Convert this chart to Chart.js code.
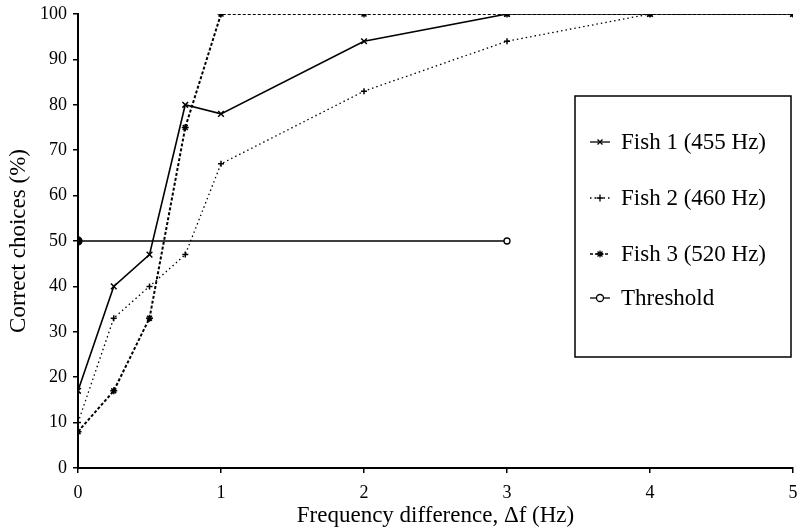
<!DOCTYPE html>
<html>
<head>
<meta charset="utf-8">
<script src="https://cdn.jsdelivr.net/npm/chart.js@4/dist/chart.umd.min.js"></script>
<style>
  html, body { margin: 0; padding: 0; background: #fff; }
  #wrap { width: 800px; height: 532px; }
</style>
</head>
<body>
<div id="wrap"><canvas id="fishChart"></canvas></div>
<script>
// data
const freqDiff = [0, 0.25, 0.5, 0.75, 1, 2, 3, 4, 5];
const fish1 = [17, 40, 47, 80, 78, 94, 100, 100, 100];
const fish2 = [10, 33, 40, 47, 67, 83, 94, 100, 100];
const fish3 = [8, 17, 33, 75, 100, 100, 100, 100, 100];
const thresholdX = [0, 3];
const thresholdY = [50, 50];
const seriesLabels = ['Fish 1 (455 Hz)', 'Fish 2 (460 Hz)', 'Fish 3 (520 Hz)', 'Threshold'];
const xTicks = [0, 1, 2, 3, 4, 5];
const yTicks = [0, 10, 20, 30, 40, 50, 60, 70, 80, 90, 100];

const serif = "'Liberation Serif', 'DejaVu Serif', serif";

function toPoints(xs, ys){
  return xs.map((x, i) => ({ x: x, y: ys[i] }));
}

function noEdgePadding(s){
  s.paddingTop = 0;
  s.paddingBottom = 0;
  s.paddingLeft = 0;
  s.paddingRight = 0;
}

// legend box drawn inside the plot
const boxLegend = {
  id: 'boxLegend',
  afterDraw(chart){
    const c = chart.ctx;
    c.save();
    c.strokeStyle = '#000';
    c.lineWidth = 1.5;
    c.strokeRect(575, 96, 216, 261);
    const rows = [142, 198, 254, 298];
    chart.data.datasets.forEach((ds, i) => {
      const y = rows[i];
      c.beginPath();
      c.strokeStyle = '#000';
      c.lineWidth = 1.3;
      c.setLineDash(ds.borderDash || []);
      c.moveTo(590, y);
      c.lineTo(610, y);
      c.stroke();
      c.setLineDash([]);
      c.fillStyle = '#fff';
      Chart.helpers.drawPoint(c, {
        pointStyle: ds.pointStyle,
        radius: 3.5,
        borderWidth: 1.4
      }, 600, y);
      c.fillStyle = '#000';
      c.font = '23px ' + serif;
      c.textBaseline = 'middle';
      c.fillText(ds.label, 621, y + 1);
    });
    c.restore();
  }
};

const ctx = document.getElementById('fishChart').getContext('2d');

new Chart(ctx, {
  type: 'line',
  data: {
    datasets: [
      {
        label: seriesLabels[0],
        data: toPoints(freqDiff, fish1),
        borderColor: '#000',
        borderWidth: 1.6,
        pointStyle: 'crossRot',
        pointRadius: 4,
        pointBorderColor: '#000',
        pointBorderWidth: 1.5
      },
      {
        label: seriesLabels[1],
        data: toPoints(freqDiff, fish2),
        borderColor: '#000',
        borderWidth: 1.3,
        borderDash: [1.5, 3],
        pointStyle: 'cross',
        pointRadius: 3,
        pointBorderColor: '#000',
        pointBorderWidth: 1.5
      },
      {
        label: seriesLabels[2],
        data: toPoints(freqDiff, fish3),
        borderColor: '#000',
        borderWidth: 2,
        borderDash: [3, 2],
        pointStyle: 'star',
        pointRadius: 3.5,
        pointBorderColor: '#000',
        pointBorderWidth: 1.5
      },
      {
        label: seriesLabels[3],
        data: toPoints(thresholdX, thresholdY),
        borderColor: '#000',
        borderWidth: 1.3,
        pointStyle: 'circle',
        pointRadius: [4, 3],
        pointBackgroundColor: ['#000', '#fff'],
        pointBorderColor: '#000',
        pointBorderWidth: 1.3
      }
    ]
  },
  options: {
    responsive: true,
    maintainAspectRatio: false,
    animation: false,
    layout: { padding: { top: 14, right: 7, left: 0, bottom: 0 } },
    plugins: {
      legend: { display: false },
      tooltip: { enabled: false }
    },
    elements: { line: { tension: 0, fill: false } },
    scales: {
      x: {
        type: 'linear',
        min: 0,
        max: 5,
        afterBuildTicks: (s) => { s.ticks = xTicks.map(v => ({ value: v })); },
        afterFit: (s) => { s.height = 64; noEdgePadding(s); },
        border: { color: '#000', width: 2 },
        grid: { display: true, drawOnChartArea: false, drawTicks: true, tickLength: 5, color: '#000', lineWidth: 1.5 },
        ticks: { color: '#000', font: { family: serif, size: 18 }, padding: 9, maxRotation: 0 },
        title: {
          display: true,
          text: 'Frequency difference, \u0394f (Hz)',
          color: '#000',
          font: { family: serif, size: 23 },
          padding: { top: 0, bottom: 2 }
        }
      },
      y: {
        min: 0,
        max: 100,
        afterBuildTicks: (s) => { s.ticks = yTicks.map(v => ({ value: v })); },
        afterFit: (s) => { s.width = 78; noEdgePadding(s); },
        border: { color: '#000', width: 2 },
        grid: { display: true, drawOnChartArea: false, drawTicks: true, tickLength: 5, color: '#000', lineWidth: 1.5 },
        ticks: { color: '#000', font: { family: serif, size: 18 }, padding: 6 },
        title: {
          display: true,
          text: 'Correct choices (%)',
          color: '#000',
          font: { family: serif, size: 23 },
          padding: { top: 5, bottom: 4 }
        }
      }
    }
  },
  plugins: [boxLegend]
});
</script>
</body>
</html>
